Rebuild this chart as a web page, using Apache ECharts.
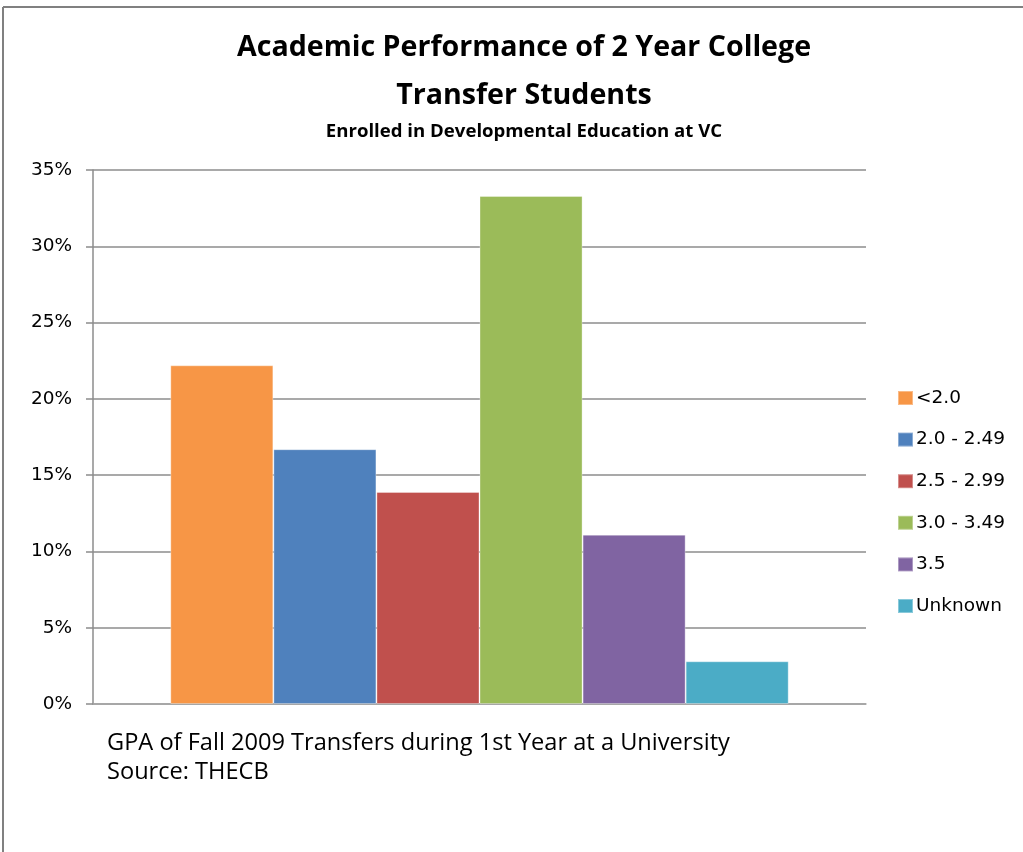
<!DOCTYPE html>
<html>
<head>
<meta charset="utf-8">
<script src="https://cdn.jsdelivr.net/npm/echarts@6/dist/echarts.min.js"></script>
<style>
  html, body { margin: 0; padding: 0; background: #fff; }
  #chart { width: 1023px; height: 852px; }
</style>
</head>
<body>
<div id="chart"></div>
<script>
// GPA bands of Fall 2009 transfers (share of students, %)
const categories = ['GPA'];
const seriesNames = ['<2.0', '2.0 - 2.49', '2.5 - 2.99', '3.0 - 3.49', '3.5', 'Unknown'];
const seriesValues = [22.2, 16.7, 13.9, 33.3, 11.1, 2.8];
const seriesColors = ['#F79646', '#4F81BD', '#C0504D', '#9BBB59', '#8064A2', '#4BACC6'];
const yTicks = { min: 0, max: 35, interval: 5 };

const titleFont = '"Open Sans", Lato, sans-serif';
const axisFont = '"DejaVu Sans", Verdana, sans-serif';

const chart = echarts.init(document.getElementById('chart'), null, { renderer: 'canvas' });

const series = seriesNames.map((name, i) => ({
  name: name,
  type: 'bar',
  data: [seriesValues[i]],
  barGap: '0%',
  barCategoryGap: '20%',
  itemStyle: { color: seriesColors[i], borderColor: 'rgba(255,255,255,0.35)', borderWidth: 1 }
}));

chart.setOption({
  animation: false,
  backgroundColor: '#fff',
  title: [
    {
      text: 'Academic Performance of 2 Year College',
      left: 519, top: 28, textAlign: 'center',
      textStyle: { fontFamily: titleFont, fontWeight: 'bold', fontSize: 28.6, color: '#000' }
    },
    {
      text: 'Transfer Students',
      left: 519, top: 76, textAlign: 'center',
      textStyle: { fontFamily: titleFont, fontWeight: 'bold', fontSize: 28.6, color: '#000' }
    },
    {
      text: 'Enrolled in Developmental Education at VC',
      left: 519, top: 117, textAlign: 'center',
      textStyle: { fontFamily: titleFont, fontWeight: 'bold', fontSize: 18.6, color: '#000' }
    }
  ],
  legend: {
    orient: 'vertical',
    left: 892, top: 383,
    itemWidth: 15, itemHeight: 14, itemGap: 21.6,
    icon: 'rect',
    textStyle: { fontFamily: axisFont, fontSize: 18.5, lineHeight: 20, color: '#000', padding: [0, 0, 0, -2] },
    data: seriesNames
  },
  grid: { left: 93, right: 157, top: 170, bottom: 148, containLabel: false },
  xAxis: {
    type: 'category',
    data: categories,
    axisLine: { show: true, lineStyle: { color: '#A6A6A6', width: 1.5 } },
    axisTick: { show: false },
    axisLabel: { show: false }
  },
  yAxis: {
    type: 'value',
    min: yTicks.min, max: yTicks.max, interval: yTicks.interval,
    axisLine: { show: true, lineStyle: { color: '#8C8C8C', width: 1.5 } },
    axisTick: { show: true, length: 7, lineStyle: { color: '#8C8C8C', width: 1.5 } },
    axisLabel: {
      formatter: v => v + '%',
      fontFamily: axisFont, fontSize: 18.5, color: '#000', margin: 21
    },
    splitLine: { show: true, lineStyle: { color: '#8C8C8C', width: 1.5 } }
  },
  graphic: [
    { type: 'line', shape: { x1: 3, y1: 7, x2: 1023, y2: 7 }, style: { stroke: '#808080', lineWidth: 2 } },
    { type: 'line', shape: { x1: 3, y1: 7, x2: 3, y2: 852 }, style: { stroke: '#808080', lineWidth: 2 } },
    {
      type: 'text', left: 107, top: 731,
      style: { text: 'GPA of Fall 2009 Transfers during 1st Year at a University', fontFamily: titleFont, fontSize: 23.6, fill: '#000' }
    },
    {
      type: 'text', left: 107, top: 760,
      style: { text: 'Source: THECB', fontFamily: titleFont, fontSize: 23.6, fill: '#000' }
    }
  ],
  series: series
});
</script>
</body>
</html>
